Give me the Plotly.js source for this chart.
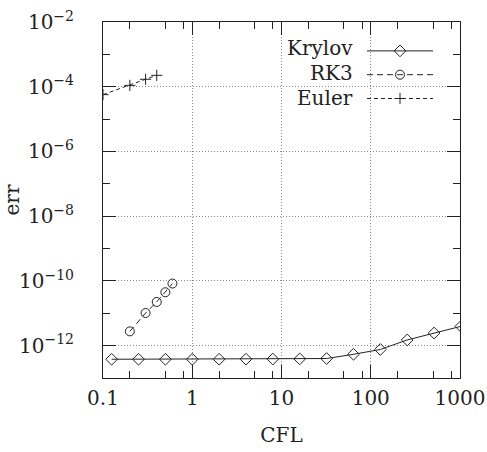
<!DOCTYPE html>
<html><head><meta charset="utf-8">
<script src="https://cdn.plot.ly/plotly-3.0.1.min.js"></script>
<style>html,body{margin:0;padding:0;background:#fff}</style>
</head><body><div id="chart" style="width:487px;height:452px"></div>
<script>
const krylovCFL = [0.125,0.25,0.5,1,2,4,8,16,32,64,128,256,512,1024];
const krylovErr = [3.8e-13,3.8e-13,3.8e-13,3.8e-13,3.8e-13,3.82e-13,3.85e-13,3.9e-13,4.0e-13,5.4e-13,7.6e-13,1.5e-12,2.45e-12,3.95e-12];
const rk3CFL = [0.2,0.3,0.4,0.5,0.6];
const rk3Err = [2.76e-12,1.02e-11,2.24e-11,4.46e-11,8.3e-11];
const eulerCFL = [0.1,0.2,0.3,0.4];
const eulerErr = [5.7e-5,1.1e-4,1.7e-4,2.25e-4];
const seriesNames = ['Krylov','RK3','Euler'];
const xTickVals = [0.1,1,10,100,1000];
const xTickText = ['0.1','1','10','100','1000'];
const xMinorVals = [0.2,0.5,0.8,2,5,8,20,50,80,200,500,800];
const yTickVals = [1e-12,1e-10,1e-8,1e-6,1e-4,1e-2];
const yTickText = ['10<sup>−12</sup>','10<sup>−10</sup>','10<sup>−8</sup>','10<sup>−6</sup>','10<sup>−4</sup>','10<sup>−2</sup>'];
const yMinorVals = [1e-11,1e-9,1e-7,1e-5,1e-3];

const ink = '#222';
const font = 'DejaVu Serif';

const traces = [
  {x: krylovCFL, y: krylovErr, name: '', mode: 'lines+markers', type: 'scatter',
   line: {color: ink, width: 1}, marker: {symbol: 'diamond-open', size: 9, color: ink, line: {width: 1}}},
  {x: rk3CFL, y: rk3Err, name: '', mode: 'lines+markers', type: 'scatter',
   line: {color: ink, width: 1, dash: '6px,4px'}, marker: {symbol: 'circle-open', size: 9, color: ink, line: {width: 1}}},
  {x: eulerCFL, y: eulerErr, name: '', mode: 'lines+markers', type: 'scatter',
   line: {color: ink, width: 1, dash: '4px,3px'}, marker: {symbol: 'cross-thin-open', size: 8, color: ink, line: {width: 1}}}
];

const rowY = [48, 73, 98];
const annotations = seriesNames.map((n, i) => ({
  text: n, xref: 'paper', yref: 'paper', x: (355 - 103) / 357, y: (378 - rowY[i]) / 356,
  xanchor: 'right', yanchor: 'middle', showarrow: false, font: {family: font, size: 20, color: ink}
}));

const axisCommon = {
  type: 'log', tickmode: 'array', ticks: 'inside', ticklen: 13, tickwidth: 1, tickcolor: ink,
  showline: true, linecolor: ink, linewidth: 1, mirror: 'ticks', showgrid: true,
  gridcolor: '#888', griddash: '1px,2px', gridwidth: 1, zeroline: false, automargin: false,
  tickfont: {family: font, size: 20, color: ink}
};

const layout = {
  width: 487, height: 452,
  margin: {l: 103, r: 27, t: 22, b: 74},
  paper_bgcolor: 'white', plot_bgcolor: 'white',
  font: {family: font, size: 20, color: ink},
  showlegend: true,
  legend: {x: (362 - 103) / 357, xanchor: 'left', y: (378 - 34) / 356, yanchor: 'top',
    bgcolor: 'rgba(0,0,0,0)', borderwidth: 0, itemwidth: 66, font: {family: font, size: 16}, tracegroupgap: 0},
  xaxis: Object.assign({}, axisCommon, {range: [-1, 3], tickvals: xTickVals, ticktext: xTickText,
    ticklabelstandoff: 2, title: {text: 'CFL', standoff: 18, font: {family: font, size: 20, color: ink}},
    minor: {tickmode: 'array', tickvals: xMinorVals, ticks: 'inside', ticklen: 7, tickcolor: ink, showgrid: false}}),
  yaxis: Object.assign({}, axisCommon, {range: [-13, -2], tickvals: yTickVals, ticktext: yTickText,
    ticklabelstandoff: 24, title: {text: 'err', standoff: 10, font: {family: font, size: 20, color: ink}},
    minor: {tickmode: 'array', tickvals: yMinorVals, ticks: 'inside', ticklen: 7, tickcolor: ink, showgrid: false}}),
  shapes: [{type: 'rect', xref: 'paper', yref: 'paper', x0: (275 - 103) / 357, x1: 1, y0: (378 - 114) / 356, y1: 1,
    fillcolor: 'white', line: {width: 0}, layer: 'between'}],
  annotations: annotations
};

Plotly.newPlot('chart', traces, layout, {displayModeBar: false, staticPlot: true});
</script></body></html>
